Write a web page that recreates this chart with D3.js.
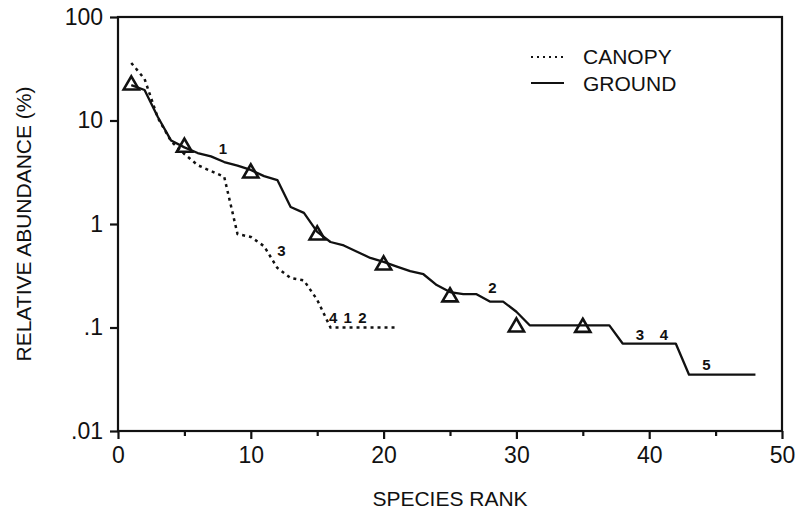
<!DOCTYPE html>
<html>
<head>
<meta charset="utf-8">
<script src="https://cdn.jsdelivr.net/npm/d3@7"></script>
<style>
  body { margin: 0; background: #fff; }
  text { font-family: "Liberation Sans", Arial, sans-serif; fill: #111; }
</style>
</head>
<body>
<svg id="chart"></svg>
<script>
// Data
let groundRank = [1, 2, 3, 4, 5, 6, 7, 8, 9, 10, 11, 12, 13, 14, 15, 16, 17, 18, 19, 20, 21, 22, 23, 24, 25, 26, 27, 28, 29, 30, 31, 37, 38, 42, 43, 48];
let groundValue = [22, 19.7, 10.8, 6.4, 5.5, 4.85, 4.5, 3.97, 3.67, 3.33, 2.9, 2.66, 1.46, 1.28, 0.84, 0.67, 0.62, 0.54, 0.47, 0.43, 0.387, 0.35, 0.327, 0.257, 0.22, 0.21, 0.21, 0.178, 0.178, 0.142, 0.105, 0.105, 0.07, 0.07, 0.035, 0.035];

let canopyRank = [1, 2, 3, 4, 5, 6, 7, 8, 9, 10, 11, 12, 13, 14, 15, 16, 21];
let canopyValue = [36, 25.2, 10.6, 6.3, 4.75, 3.7, 3.25, 2.85, 0.8, 0.75, 0.61, 0.376, 0.30, 0.285, 0.185, 0.1, 0.1];

let markerRank = [1, 5, 10, 15, 20, 25, 30, 35];
let markerValue = [22, 5.5, 3.1, 0.78, 0.40, 0.197, 0.101, 0.1];

let groundLabels = [
    { text: "1", rank: 7.9, value: 5.4 },
    { text: "2", rank: 28.2, value: 0.244 },
    { text: "3", rank: 39.3, value: 0.085 },
    { text: "4", rank: 41.1, value: 0.085 },
    { text: "5", rank: 44.3, value: 0.044 }
];
let canopyLabels = [
    { text: "3", rank: 12.3, value: 0.56 },
    { text: "4", rank: 16.2, value: 0.124 },
    { text: "1", rank: 17.3, value: 0.124 },
    { text: "2", rank: 18.4, value: 0.124 }
];

let xTicks = [0, 10, 20, 30, 40, 50];
let xMinorTicks = [5, 15, 25, 35, 45];
let yTicks = [100, 10, 1, 0.1, 0.01];
let yTickLabels = ["100", "10", "1", ".1", ".01"];

// SVG Size
let width = 800;
let height = 511;
let mLeft = 118, mRight = 782, mTop = 17, mBottom = 431;

let svg = d3.select("#chart")
    .attr("width", width)
    .attr("height", height);

// Scales
let x = d3.scaleLinear().domain([0, 50]).range([mLeft, mRight]);
let y = d3.scaleLog().domain([0.01, 100]).range([mBottom, mTop]);

// Frame
svg.append("rect")
    .attr("x", mLeft).attr("y", mTop)
    .attr("width", mRight - mLeft).attr("height", mBottom - mTop)
    .attr("fill", "none").attr("stroke", "#111").attr("stroke-width", 2.2);

// Axes
svg.append("g")
    .attr("transform", `translate(0,${mBottom})`)
    .call(d3.axisBottom(x).tickValues(xTicks).tickSize(8).tickPadding(8).tickFormat(d3.format("d")));
svg.append("g")
    .attr("transform", `translate(0,${mBottom})`)
    .call(d3.axisBottom(x).tickValues(xMinorTicks).tickSize(5).tickFormat(""));

svg.append("g")
    .attr("transform", `translate(${mLeft},0)`)
    .call(d3.axisLeft(y).tickValues(yTicks).tickSize(8).tickPadding(7).tickFormat((d, i) => yTickLabels[i]));

svg.selectAll(".domain").remove();
svg.selectAll(".tick line").attr("stroke", "#111").attr("stroke-width", 2.2);
svg.selectAll(".tick text").attr("font-size", 23).attr("fill", "#111")
    .style("font-family", "'Liberation Sans', Arial, sans-serif");

// Axis titles
svg.append("text")
    .attr("x", (mLeft + mRight) / 2).attr("y", 498)
    .attr("text-anchor", "middle").attr("dominant-baseline", "central")
    .attr("font-size", 21)
    .text("SPECIES RANK");

svg.append("text")
    .attr("transform", `translate(23,${(mTop + mBottom) / 2}) rotate(-90)`)
    .attr("text-anchor", "middle").attr("dominant-baseline", "central")
    .attr("font-size", 21)
    .text("RELATIVE ABUNDANCE (%)");

// Lines
let line = d3.line()
    .x(d => x(d[0]))
    .y(d => y(d[1]));

svg.append("path")
    .datum(canopyRank.map((r, i) => [r, canopyValue[i]]))
    .attr("d", line)
    .attr("fill", "none").attr("stroke", "#111")
    .attr("stroke-width", 2.5).attr("stroke-dasharray", "3,4");

svg.append("path")
    .datum(groundRank.map((r, i) => [r, groundValue[i]]))
    .attr("d", line)
    .attr("fill", "none").attr("stroke", "#111")
    .attr("stroke-width", 2.3).attr("stroke-linejoin", "round");

// Triangle markers
let tri = d3.symbol().type(d3.symbolTriangle).size(100);
svg.selectAll(".marker")
    .data(markerRank.map((r, i) => [r, markerValue[i]]))
    .enter()
    .append("path")
    .attr("class", "marker")
    .attr("d", tri)
    .attr("transform", d => `translate(${x(d[0])},${y(d[1])})`)
    .attr("fill", "none").attr("stroke", "#111").attr("stroke-width", 2.6);

// Number labels
svg.selectAll(".lab")
    .data(groundLabels.concat(canopyLabels))
    .enter()
    .append("text")
    .attr("class", "lab")
    .attr("x", d => x(d.rank)).attr("y", d => y(d.value))
    .attr("text-anchor", "middle").attr("dominant-baseline", "central")
    .attr("font-size", 15).attr("font-weight", "bold")
    .text(d => d.text);

// Legend
let legend = svg.append("g");
legend.append("line")
    .attr("x1", 531).attr("x2", 564).attr("y1", 57).attr("y2", 57)
    .attr("stroke", "#111").attr("stroke-width", 1.8).attr("stroke-dasharray", "2,4");
legend.append("line")
    .attr("x1", 531).attr("x2", 564).attr("y1", 83).attr("y2", 83)
    .attr("stroke", "#111").attr("stroke-width", 2);
legend.append("text")
    .attr("x", 583).attr("y", 56).attr("dominant-baseline", "central")
    .attr("font-size", 21).text("CANOPY");
legend.append("text")
    .attr("x", 583).attr("y", 83).attr("dominant-baseline", "central")
    .attr("font-size", 21).text("GROUND");
</script>
</body>
</html>
